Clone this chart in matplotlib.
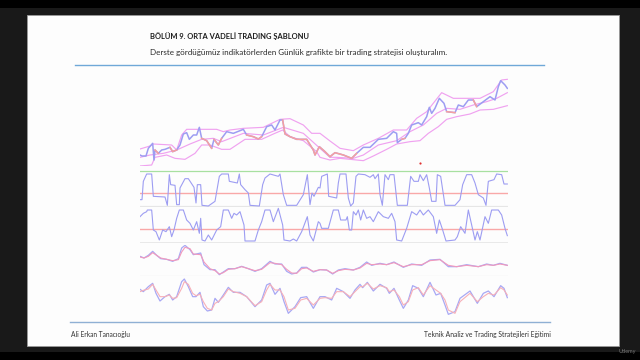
import numpy as np
import matplotlib
matplotlib.use("Agg")
import matplotlib.pyplot as plt
from matplotlib.patches import Rectangle

plt.rcParams["font.family"] = ["Lato", "DejaVu Sans"]

title = "BÖLÜM 9. ORTA VADELİ TRADING ŞABLONU"
subtitle = "Derste gördüğümüz indikatörlerden Günlük grafikte bir trading stratejisi oluşturalım."
footer_left = "Ali Erkan Tanacıoğlu"
footer_right = "Teknik Analiz ve Trading Stratejileri Eğitimi"

price_x = [0,6,18,25,38,42,45,55,65,75,90,98,110,120,130,140,148,160,170,178,185,200,215,222,235,245,260,280,310,320,340,355,365,380,395,405,420,428,435,450,470,500,520,525,538,
 555,570,585,610,635,650,670,690,715,740,760,770,772,785,795,805,815,835,845,860,868,875,885,898,912,920,945,955,970,985,1000,1010,1030,1050,1065,1075,1082,1095,1102]
price_y = [30,27,27,50,65,15,45,35,45,47,53,40,45,60,93,97,77,90,90,113,80,73,50,77,60,80,100,95,107,90,85,78,85,115,120,105,135,135,93,85,77,77,45,30,55,
 40,25,37,30,20,35,53,53,77,80,100,95,67,77,80,95,120,127,120,145,173,155,170,200,185,160,157,180,175,195,195,175,190,205,195,235,253,240,230]
price_red = [(45,55),(90,110),(185,215),(222,245),(320,365),(428,650),(785,795),(920,945),(1000,1010)]

upper_x = [0,30,40,95,110,125,140,180,230,250,270,310,370,420,450,490,515,540,570,600,640,670,715,760,800,830,860,905,940,980,1020,1060,1085,1102]
upper_y = [48,57,63,60,45,90,107,107,107,100,105,110,113,137,139,120,95,95,72,50,43,60,80,105,105,140,160,217,200,200,200,220,255,257]
middle_x = [0,30,70,110,150,185,220,245,310,370,430,490,540,570,590,640,670,715,770,810,850,890,920,960,1000,1040,1070,1102]
middle_y = [23,30,35,45,63,77,80,70,95,90,113,95,50,23,23,20,30,60,73,100,120,155,170,167,180,190,200,217]
lower_x = [0,35,45,80,105,135,165,185,210,245,270,315,365,400,428,450,490,530,540,570,600,670,700,740,770,810,840,865,895,920,950,990,1020,1060,1102]
lower_y = [-3,0,23,30,20,17,35,60,60,47,47,77,77,93,105,85,73,40,23,15,20,13,27,47,63,70,73,95,115,137,145,153,165,167,178]

osc1_x = [0,6,10,20,35,40,75,82,88,92,105,110,118,120,135,145,162,168,172,182,186,205,225,238,245,265,268,292,298,302,315,325,330,358,368,375,390,415,420,430,440,470,490,502,510,516,522,535,
 540,545,562,566,590,595,600,618,625,632,640,648,655,675,690,700,705,715,720,727,735,745,750,762,772,802,812,822,835,840,850,860,868,875,888,892,902,915,945,960,968,980,995,1005,1015,1030,1038,1045,1062,1070,1085,1092,1102]
osc1_y = [22,22,77,99,99,32,30,5,97,67,65,7,7,57,85,85,59,12,67,67,5,3,17,92,99,99,77,72,99,67,52,42,5,3,67,87,99,92,99,37,5,5,37,97,7,42,32,59,
 57,92,99,32,27,72,99,99,27,3,12,92,99,97,89,97,85,99,37,5,97,82,97,97,5,5,92,77,77,97,79,97,57,17,17,97,92,5,5,22,67,97,97,72,37,27,5,77,82,99,97,69,69]

osc2_x = [0,10,20,22,35,40,48,58,68,78,88,95,102,110,118,130,140,150,160,170,178,182,186,195,205,215,230,242,250,265,275,282,290,300,312,315,345,355,365,375,390,400,415,428,432,450,460,470,485,502,510,520,535,
 540,545,565,580,595,602,618,622,628,635,640,648,655,662,670,680,690,700,715,730,745,755,765,770,785,800,815,830,840,850,865,880,890,898,908,918,945,952,962,975,985,995,1005,1012,1020,1035,1045,1055,1075,1085,1095,1102]
osc2_y = [79,89,94,99,99,39,34,9,39,34,49,19,39,74,99,99,69,59,39,64,29,74,9,6,24,9,39,49,99,99,74,89,84,94,54,6,6,39,64,99,99,64,104,54,9,6,12,6,34,79,24,6,64,
 59,44,44,99,99,69,69,79,39,39,94,84,99,69,99,74,79,64,94,79,74,89,64,9,6,44,94,84,99,84,99,79,29,69,39,6,9,19,49,29,99,54,9,34,9,79,59,99,99,84,44,22]

osc3_x = [0,12,25,38,50,62,80,98,115,125,135,150,160,182,192,210,225,238,250,265,285,305,325,345,365,390,405,425,440,455,470,485,500,520,
 540,560,578,595,615,640,660,680,695,720,740,762,790,815,845,870,900,925,950,980,1015,1040,1060,1080,1102]
osc3_blue = [59,54,62,74,62,52,50,44,52,84,92,79,64,69,34,19,19,4,12,22,22,29,22,14,22,44,36,36,14,6,9,26,26,12,
 19,18,6,18,22,18,26,42,32,38,34,42,26,36,32,48,50,28,28,34,28,36,32,38,32]
osc3_red = [57,54,59,70,62,54,50,46,49,72,86,82,66,64,42,22,16,6,10,20,22,28,22,16,20,40,38,34,20,9,8,22,24,14,
 19,18,8,16,20,18,24,38,34,36,34,40,28,34,34,46,49,32,28,32,28,34,32,36,32]

osc4_x = [0,10,25,38,48,60,75,88,98,110,125,133,145,158,168,180,190,202,215,225,235,250,265,280,300,320,345,365,380,390,405,420,432,445,465,482,500,520,
 540,555,575,590,610,630,645,660,668,682,700,720,740,748,762,778,790,805,818,835,850,870,888,902,915,925,945,960,990,1012,1030,1045,1062,1082,1092,1102]
osc4_blue = [107,100,115,125,95,72,85,92,75,85,130,138,115,85,85,98,55,42,45,80,68,90,113,98,98,85,55,75,120,125,92,110,70,35,55,82,85,50,
 85,85,75,110,100,80,105,122,112,128,102,122,110,95,110,75,50,75,118,110,85,128,90,95,60,32,40,80,102,65,95,102,85,118,110,82]
osc4_red = [100,104,108,122,105,85,85,90,80,82,110,130,122,95,88,92,70,50,45,65,70,85,108,100,95,85,58,70,105,122,105,105,85,45,50,75,80,60,
 80,82,80,100,100,85,100,115,115,125,108,118,112,100,105,85,60,70,105,112,90,118,105,95,75,45,35,70,95,70,85,95,90,112,105,90]

SLIDE = "#fdfdfd"
BLUE = "#9d9df2"
RED = "#f6a0a0"
MAG = "#f0a2f0"


def panel(fig, top, bottom, ymin):
    ax = fig.add_axes([140 / 640, 1 - bottom / 360, 368 / 640, (bottom - top) / 360])
    ax.set_xlim(0, 1104)
    ax.set_ylim(ymin, ymin + 3 * (bottom - top))
    ax.axis("off")
    ax.patch.set_alpha(0)
    return ax


fig = plt.figure(figsize=(6.4, 3.6), dpi=100, facecolor="#000000")
fig.add_artist(Rectangle((0, 8 / 360), 1, 344 / 360, transform=fig.transFigure, facecolor="#191919", edgecolor="none", zorder=-3))
fig.add_artist(Rectangle((27 / 640, 14 / 360), 592 / 640, 331 / 360, transform=fig.transFigure, facecolor=SLIDE, edgecolor="#9a9a9a", linewidth=0.6, zorder=-2))

fig.text(150 / 640, 1 - 36 / 360, title, fontsize=5.45, fontweight="bold", color="#1c1c1c", va="center")
fig.text(150 / 640, 1 - 52 / 360, subtitle, fontsize=5.75, color="#2a2a2a", va="center")
fig.text(71 / 640, 1 - 335 / 360, footer_left, fontsize=4.75, color="#333333", va="center")
fig.text(551 / 640, 1 - 335 / 360, footer_right, fontsize=4.85, color="#333333", va="center", ha="right")
fig.text(636 / 640, 1 - 352 / 360, "Udemy", fontsize=4, color="#777777", va="center", ha="right")
fig.add_artist(plt.Line2D([75 / 640, 544 / 640], [1 - 65.3 / 360] * 2, color="#6fa8d8", lw=1.0))
fig.add_artist(plt.Line2D([70 / 640, 550 / 640], [1 - 322 / 360] * 2, color="#8fb0d4", lw=1.0))

# price panel
ax = panel(fig, 75, 166, -3)
ax.plot(upper_x, upper_y, color=MAG, lw=0.85)
ax.plot(middle_x, middle_y, color=MAG, lw=0.85)
ax.plot(lower_x, lower_y, color=MAG, lw=0.85)
px = np.array(price_x, float)
py = np.array(price_y, float)
ax.plot(px, py, color=BLUE, lw=1.1)
for a, b in price_red:
    m = (px >= a) & (px <= b)
    ax.plot(px[m], py[m], color=RED, lw=1.1)
ax.scatter([840], [5], s=2.5, color="#e03030", linewidths=0)

# oscillator 1
ax = panel(fig, 165, 207, 0)
ax.axhline(108, color="#a8e0a0", lw=0.9)
ax.axhline(42, color="#f9a8a8", lw=1.0)
ax.axhline(0, color="#e6e6e6", lw=1.6)
ax.plot(osc1_x, osc1_y, color=BLUE, lw=0.8)

# oscillator 2
ax = panel(fig, 207, 243, 0)
ax.axhline(43, color="#f9a8a8", lw=1.0)
ax.axhline(0, color="#e6e6e6", lw=1.2)
ax.plot(osc2_x, osc2_y, color=BLUE, lw=0.8)

# oscillator 3
ax = panel(fig, 245, 276, 0)
ax.axhline(0, color="#e6e6e6", lw=0.9)
ax.plot(osc3_x, osc3_blue, color="#a8a8f4", lw=0.9)
ax.plot(osc3_x, osc3_red, color="#f29abc", lw=0.8)

# oscillator 4
ax = panel(fig, 275, 325, 0)
ax.plot(osc4_x, osc4_blue, color="#a8a8f4", lw=0.9)
ax.plot(osc4_x, osc4_red, color="#f7b0b8", lw=0.8)

fig.savefig("out.png", dpi=100, facecolor=fig.get_facecolor())
